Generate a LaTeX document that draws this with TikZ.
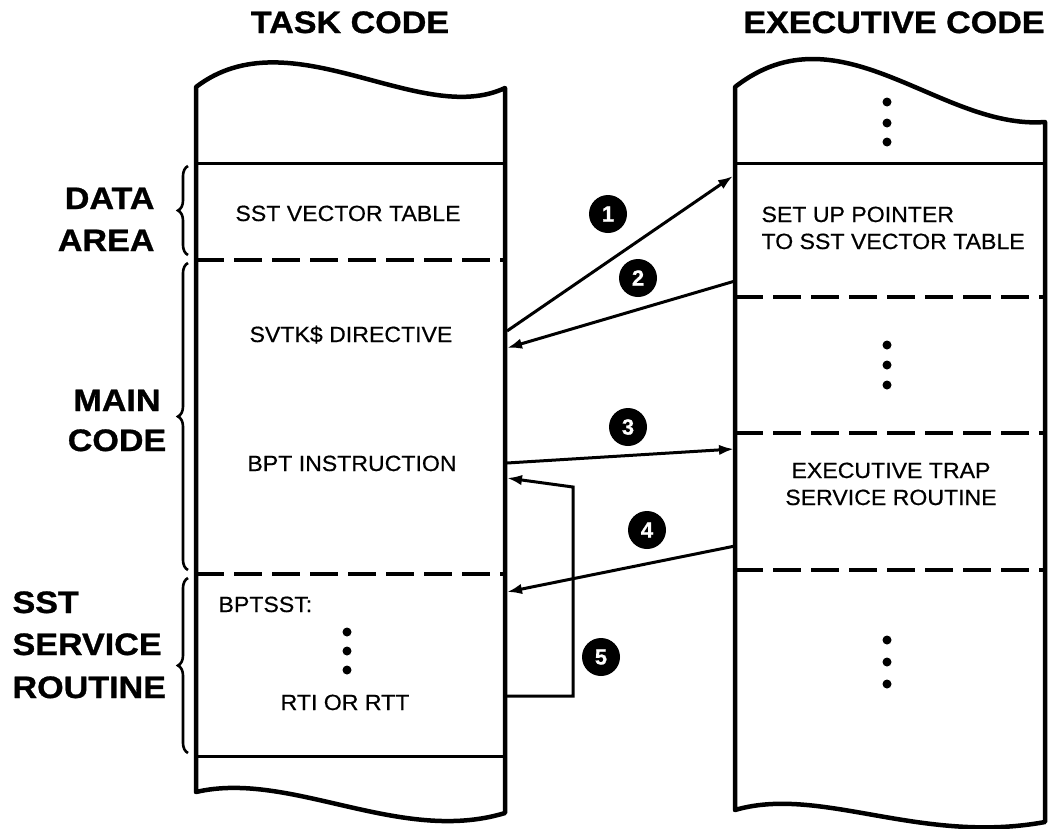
\documentclass[tikz,border=0pt]{standalone}
\usepackage{fontspec}
\newfontfamily\hdfont[FakeStretch=1.1,FakeBold=1]{Liberation Sans Bold}
\newfontfamily\txfont[FakeStretch=1.05,FakeBold=0.5]{Liberation Sans}
\newfontfamily\numfont[FakeBold=0.8]{Liberation Sans Bold}
\usetikzlibrary{arrows.meta,decorations.pathreplacing}

\begin{document}
\begin{tikzpicture}[x=1pt,y=-1pt,
  col/.style={line width=4.5pt,line join=round},
  rule/.style={line width=3pt},
  dashrule/.style={line width=3.2pt,dash pattern=on 28pt off 10pt},
  flow/.style={line width=3pt,-{Latex[length=15pt,width=10.5pt]}},
  num/.style={circle,fill=black,minimum size=38pt,inner sep=0pt,text=white,
    font=\numfont\fontsize{22}{22}\selectfont},
  hdr/.style={font=\hdfont\fontsize{31}{31}\selectfont,anchor=base},
  txt/.style={font=\txfont\fontsize{22}{27}\selectfont,anchor=base},
  dotm/.style={circle,fill=black,inner sep=0pt,minimum size=9pt},
  brc/.style={decorate,decoration={brace,amplitude=10pt},line width=2.6pt}]
\useasboundingbox (0,0) rectangle (1054,828);

% headings
\node[hdr] (hTask) at (350,33) {TASK CODE};
\node[hdr] (hExec) at (894,33) {EXECUTIVE CODE};

% task code column
\draw[col] (196,792) -- (196,87) .. controls (290,15) and (420,128) .. (505,88)
  -- (505,813) .. controls (400,845) and (290,770) .. (196,792) -- cycle;
\draw[rule] (196,163) -- (505,163);
\draw[rule] (196,756) -- (505,756);
\draw[dashrule] (196,260) -- (505,260);
\draw[dashrule] (196,574) -- (505,574);

% executive code column
\draw[col] (735,810) -- (735,87) .. controls (840,5) and (940,130) .. (1045,122)
  -- (1045,822) .. controls (920,845) and (820,785) .. (735,810) -- cycle;
\draw[rule] (735,163) -- (1045,163);
\draw[dashrule] (735,297) -- (1045,297);
\draw[dashrule] (735,433) -- (1045,433);
\draw[dashrule] (735,570) -- (1045,570);

% task code contents
\node[txt] (vtab) at (348,221) {SST VECTOR TABLE};
\node[txt] (svtk) at (351,342) {SVTK\$ DIRECTIVE};
\node[txt] (bpt) at (352,471) {BPT INSTRUCTION};
\node[txt,anchor=base west] (bptsst) at (215,612) {BPTSST:};
\node[dotm] (ld1) at (347,632) {};
\node[dotm] (ld2) at (347,651) {};
\node[dotm] (ld3) at (347,670) {};
\node[txt] (rti) at (345,710) {RTI OR RTT};

% executive code contents
\node[dotm] (ed1) at (887,102) {};
\node[dotm] (ed2) at (887,123) {};
\node[dotm] (ed3) at (887,142) {};
\node[txt,anchor=base west] (setup1) at (758,222) {SET UP POINTER};
\node[txt,anchor=base west] (setup2) at (758,249) {TO SST VECTOR TABLE};
\node[dotm] (ed4) at (887,345) {};
\node[dotm] (ed5) at (887,365) {};
\node[dotm] (ed6) at (887,385) {};
\node[txt] (trap1) at (891,478) {EXECUTIVE TRAP};
\node[txt] (trap2) at (891,505) {SERVICE ROUTINE};
\node[dotm] (ed7) at (887,640) {};
\node[dotm] (ed8) at (887,662) {};
\node[dotm] (ed9) at (887,684) {};

% region labels with braces
\node[hdr,anchor=base east] (lData) at (158,209) {DATA};
\node[hdr,anchor=base east] (lArea) at (158,251) {AREA};
\node[hdr] (lMain) at (117,411) {MAIN};
\node[hdr] (lCode) at (117,451) {CODE};
\node[hdr,anchor=base west] (lSst) at (9,613) {SST};
\node[hdr,anchor=base west] (lServ) at (9,655) {SERVICE};
\node[hdr,anchor=base west] (lRout) at (9,698) {ROUTINE};
\coordinate (bDataB) at (188,255); \coordinate (bDataT) at (188,166);
\coordinate (bMainB) at (188,570); \coordinate (bMainT) at (188,263);
\coordinate (bSstB) at (188,753);  \coordinate (bSstT) at (188,578);
\draw[brc] (bDataB) -- (bDataT);
\draw[brc] (bMainB) -- (bMainT);
\draw[brc] (bSstB) -- (bSstT);

% connector end points on the column edges
\coordinate (p1a) at (507,331); \coordinate (p1b) at (733,176);
\coordinate (p2a) at (735,281); \coordinate (p2b) at (507,348);
\coordinate (p3a) at (507,463); \coordinate (p3b) at (734,449);
\coordinate (p4a) at (735,546); \coordinate (p4b) at (507,592);
\coordinate (p5a) at (507,696); \coordinate (p5c) at (573,696);
\coordinate (p5d) at (573,487); \coordinate (p5b) at (507,478);

\draw[flow] (p1a) -- (p1b);
\draw[flow] (p2a) -- (p2b);
\draw[flow] (p3a) -- (p3b);
\draw[flow] (p4a) -- (p4b);
\draw[flow] (p5a) -- (p5c) -- (p5d) -- (p5b);

% step numbers
\node[num] (n1) at (608,214) {1};
\node[num] (n2) at (638,278) {2};
\node[num] (n3) at (628,427) {3};
\node[num] (n4) at (647,530) {4};
\node[num] (n5) at (601,657) {5};
\end{tikzpicture}
\end{document}
